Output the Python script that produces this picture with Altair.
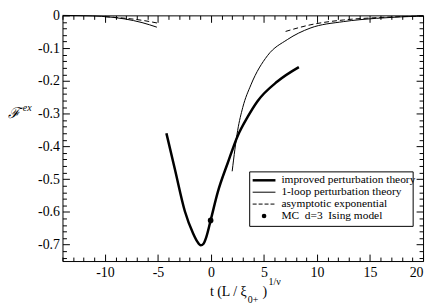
import altair as alt
import pandas as pd

# ---- data ----
names = ["improved perturbation theory", "1-loop perturbation theory",
         "asymptotic exponential", "MC\u00a0\u00a0d=3\u00a0\u00a0Ising model"]

imp_t = [-4.2, -3.4, -2.46, -1.68, -1.3, -0.96, -0.7, -0.44, -0.03, 0.65, 1.59, 2.52, 3.46, 4.39, 6.26, 8.29]
imp_f = [-0.36, -0.47, -0.598, -0.666, -0.69, -0.702, -0.697, -0.677, -0.626, -0.539, -0.45, -0.368, -0.31, -0.262, -0.202, -0.158]

loopL_t = [-14, -12, -10.3, -8.1, -6.5, -5.1]
loopL_f = [0.0, -0.001, -0.003, -0.011, -0.022, -0.036]
loopR_t = [2.0, 2.52, 3.0, 3.77, 5.33, 7.2, 9.35, 12.5, 15.6, 20]
loopR_f = [-0.476, -0.351, -0.281, -0.212, -0.123, -0.074, -0.039, -0.019, -0.009, -0.002]

asyL_t = [-10, -8.7, -6.5, -4.95]
asyL_f = [-0.004, -0.007, -0.015, -0.024]
asyR_t = [7.04, 9.35, 12.5, 15.6, 20]
asyR_f = [-0.049, -0.029, -0.014, -0.007, -0.002]

mc_t = [-0.03]
mc_f = [-0.626]

x_labels = [-10, -5, 0, 5, 10, 15, 20]
y_labels = [0, -0.1, -0.2, -0.3, -0.4, -0.5, -0.6, -0.7]
x_major = [-10, -5, 0, 5, 10, 15, 20]
x_minor = [v for v in range(-14, 21) if v % 5 != 0]
y_major = [0, -0.1, -0.2, -0.3, -0.4, -0.5, -0.6, -0.7]
y_minor = [round(-0.74 + 0.02 * i, 2) for i in range(38) if round(-0.74 + 0.02 * i, 2) * 100 % 10 != 0]

W, H = 364, 248
FONT = "Liberation Serif"
xs = alt.Scale(domain=[-14, 20], nice=False, zero=False)
ys = alt.Scale(domain=[-0.75, 0], nice=False, zero=False)


def seg_df(ts, fs):
    return pd.DataFrame({"t": ts, "f": fs})


main_x = alt.X("t:Q", scale=xs, axis=alt.Axis(orient="bottom", values=x_labels, ticks=False, domain=False,
                                             grid=False, title=None, labelFont=FONT, labelFontSize=14,
                                             labelColor="black", labelPadding=5,
                                             labelExpr="'' + datum.value"))
main_y = alt.Y("f:Q", scale=ys, axis=alt.Axis(orient="left", values=y_labels, ticks=False, domain=False,
                                             grid=False, title=None, labelFont=FONT, labelFontSize=14,
                                             labelColor="black", labelPadding=3,
                                             labelExpr="'' + datum.value"))
plain_x = alt.X("t:Q", scale=xs, axis=None)
plain_y = alt.Y("f:Q", scale=ys, axis=None)


def line(ts, fs, width, dash=None, with_axes=False):
    kw = dict(color="black", strokeWidth=width, interpolate="monotone")
    if dash:
        kw["strokeDash"] = dash
    enc = dict(x=main_x, y=main_y) if with_axes else dict(x=plain_x, y=plain_y)
    return alt.Chart(seg_df(ts, fs)).mark_line(**kw).encode(**enc)


layers = [
    line(imp_t, imp_f, 2.5, with_axes=True),
    line(loopL_t, loopL_f, 1),
    line(loopR_t, loopR_f, 1),
    line(asyL_t, asyL_f, 1, dash=[5, 3]),
    line(asyR_t, asyR_f, 1, dash=[5, 3]),
    alt.Chart(seg_df(mc_t, mc_f)).mark_point(filled=True, color="black", opacity=1, size=32).encode(x=plain_x, y=plain_y),
]


# inward ticks: axes pushed across the plot with a negative offset
def tick_layer(xo, yo, xv, yv, size):
    return alt.Chart(seg_df(mc_t, mc_f)).mark_point(opacity=0).encode(
        x=alt.X("t:Q", scale=xs, axis=alt.Axis(orient=xo, offset=-H, values=xv, labels=False, domain=False,
                                                 grid=False, title=None, tickColor="black", tickSize=size)),
        y=alt.Y("f:Q", scale=ys, axis=alt.Axis(orient=yo, offset=-W, values=yv, labels=False, domain=False,
                                                 grid=False, title=None, tickColor="black", tickSize=size)),
    )


layers += [
    tick_layer("top", "right", x_major, y_major, 7),
    tick_layer("top", "right", x_minor, y_minor, 4),
    tick_layer("bottom", "left", x_major, y_major, 7),
    tick_layer("bottom", "left", x_minor, y_minor, 4),
]


def txt(s, x, y, size, align="left", style="normal"):
    return alt.Chart(pd.DataFrame({"s": [s]})).mark_text(
        font=FONT, fontSize=size, color="black", align=align, baseline="middle", fontStyle=style
    ).encode(text="s:N", x=alt.value(x), y=alt.value(y))


# axis titles with sub/superscripts
layers += [
    txt("t (L / ξ", 186, 279, 14, align="right"),
    txt("0+", 187, 287, 10),
    txt(")", 202, 279, 14),
    txt("1/ν", 208, 269, 10),
    txt("ℱ", -55, 99, 15, style="italic"),
    txt("ex", -40, 94, 10, style="italic"),
]

# legend box
LX0, LX1, LY0, LY1 = 189, 354, 158, 213
row_y = [166.5, 178.5, 190.5, 202.5]
sym_x0, sym_x1, lab_x = 192, 215, 221
layers.append(alt.Chart(pd.DataFrame({"a": [0]})).mark_rect(fill="white", stroke="black", strokeWidth=1).encode(
    x=alt.value(LX0), x2=alt.value(LX1), y=alt.value(LY0), y2=alt.value(LY1)))
for i, (w, d) in enumerate([(2.5, None), (1, None), (1, [4, 2])]):
    kw = dict(color="black", strokeWidth=w)
    if d:
        kw["strokeDash"] = d
    layers.append(alt.Chart(pd.DataFrame({"a": [0]})).mark_rule(**kw).encode(
        x=alt.value(sym_x0), x2=alt.value(sym_x1), y=alt.value(row_y[i])))
layers.append(alt.Chart(pd.DataFrame({"a": [0]})).mark_point(filled=True, color="black", opacity=1, size=22).encode(
    x=alt.value((sym_x0 + sym_x1) / 2), y=alt.value(row_y[3])))
for i, n in enumerate(names):
    layers.append(txt(n, lab_x, row_y[i], 11.5))

chart = alt.layer(*layers).resolve_axis(
    x="independent", y="independent"
).properties(
    width=W, height=H, autosize=alt.AutoSizeParams(type="none"),
    padding={"left": 55, "top": 6, "right": 5, "bottom": 50},
).configure_view(stroke="black", strokeWidth=1).configure_axis(
    labelFont=FONT, labelFontSize=14, labelColor="black"
).configure_text(font=FONT)

chart.save("out.html", embed_options={"renderer": "svg", "actions": False})
